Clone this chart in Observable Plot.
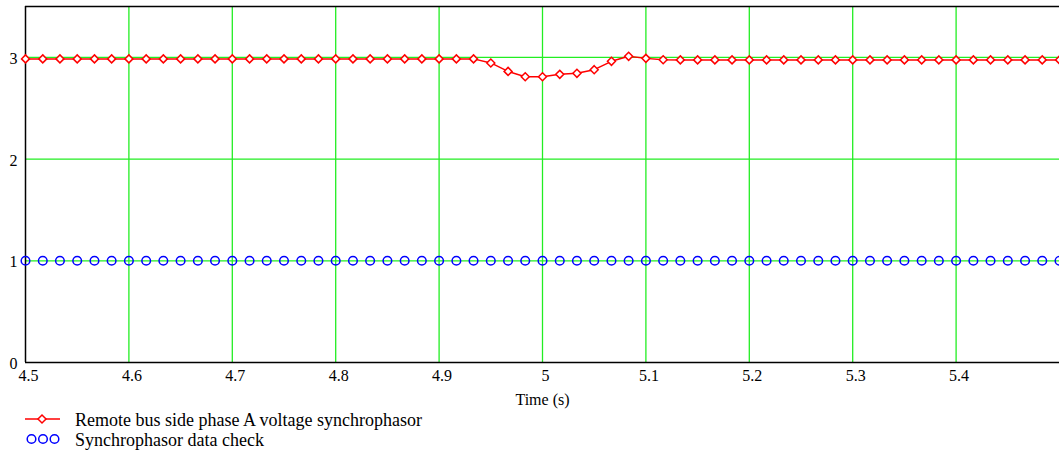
<!DOCTYPE html>
<html>
<head>
<meta charset="utf-8">
<script src="https://cdn.jsdelivr.net/npm/d3@7"></script>
<script src="https://cdn.jsdelivr.net/npm/@observablehq/plot@0.6"></script>
<style>
  html, body { margin: 0; padding: 0; background: #fff; overflow: hidden; }
  #chart { width: 1059px; height: 410px; }
  #legend { position: relative; width: 1059px; height: 45px; font-family: "Liberation Serif", "Times New Roman", serif; font-size: 18px; color: #000; }
  .row { position: absolute; left: 0; height: 20px; width: 700px; }
  .row svg { position: absolute; left: 0; top: 0; }
  .row span { position: absolute; left: 75px; top: 0; line-height: 20px; white-space: nowrap; }
</style>
</head>
<body>
<div id="chart"></div>
<div id="legend">
  <div class="row" style="top:0px">
    <svg width="70" height="20"><line x1="25" x2="60" y1="9" y2="9" stroke="#ff0000" stroke-width="1.5"/><path d="M42,5L46,9L42,13L38,9Z" fill="#fff" stroke="#ff0000" stroke-width="1.5"/></svg>
    <span id="lab0"></span>
  </div>
  <div class="row" style="top:20px">
    <svg width="70" height="20"><circle cx="31.5" cy="9" r="4.3" fill="none" stroke="#0000ff" stroke-width="1.5"/><circle cx="43" cy="9" r="4.3" fill="none" stroke="#0000ff" stroke-width="1.5"/><circle cx="54.5" cy="9" r="4.3" fill="none" stroke="#0000ff" stroke-width="1.5"/></svg>
    <span id="lab1"></span>
  </div>
</div>
<script>
const seriesNames = ["Remote bus side phase A voltage synchrophasor", "Synchrophasor data check"];
const time = [4.5, 4.5167, 4.5333, 4.55, 4.5667, 4.5833, 4.6, 4.6167, 4.6333, 4.65,
  4.6667, 4.6833, 4.7, 4.7167, 4.7333, 4.75, 4.7667, 4.7833, 4.8, 4.8167,
  4.8333, 4.85, 4.8667, 4.8833, 4.9, 4.9167, 4.9333, 4.95, 4.9667, 4.9833,
  5.0, 5.0167, 5.0333, 5.05, 5.0667, 5.0833, 5.1, 5.1167, 5.1333, 5.15,
  5.1667, 5.1833, 5.2, 5.2167, 5.2333, 5.25, 5.2667, 5.2833, 5.3, 5.3167,
  5.3333, 5.35, 5.3667, 5.3833, 5.4, 5.4167, 5.4333, 5.45, 5.4667, 5.4833, 5.5];
const voltage = [2.985, 2.985, 2.985, 2.985, 2.985, 2.985, 2.985, 2.985, 2.985, 2.985,
  2.985, 2.985, 2.985, 2.985, 2.985, 2.985, 2.985, 2.985, 2.985, 2.985,
  2.985, 2.985, 2.985, 2.985, 2.985, 2.985, 2.985, 2.945, 2.862, 2.81,
  2.81, 2.833, 2.843, 2.879, 2.961, 3.01, 2.99, 2.976, 2.975, 2.975,
  2.975, 2.975, 2.975, 2.975, 2.975, 2.975, 2.975, 2.975, 2.975, 2.975,
  2.975, 2.975, 2.975, 2.975, 2.975, 2.975, 2.975, 2.975, 2.975, 2.975, 2.975];
const dataCheck = [1, 1, 1, 1, 1, 1, 1, 1, 1, 1,
  1, 1, 1, 1, 1, 1, 1, 1, 1, 1,
  1, 1, 1, 1, 1, 1, 1, 1, 1, 1,
  1, 1, 1, 1, 1, 1, 1, 1, 1, 1,
  1, 1, 1, 1, 1, 1, 1, 1, 1, 1,
  1, 1, 1, 1, 1, 1, 1, 1, 1, 1, 1];
const xTicks = [4.5, 4.6, 4.7, 4.8, 4.9, 5.0, 5.1, 5.2, 5.3, 5.4];
const xTickLabels = ["4.5", "4.6", "4.7", "4.8", "4.9", "5", "5.1", "5.2", "5.3", "5.4"];
const xGrid = [4.6, 4.7, 4.8, 4.9, 5.0, 5.1, 5.2, 5.3, 5.4];
const yTicks = [0, 1, 2, 3];
const yTickLabels = ["0", "1", "2", "3"];
const yGrid = [1, 2, 3];
const xDomain = [4.5, 5.5];
const yDomain = [0, 3.5];
const xLabel = "Time (s)";

document.getElementById("lab0").textContent = seriesNames[0];
document.getElementById("lab1").textContent = seriesNames[1];

const redData = time.map((t, i) => ({t, v: voltage[i]}));
const blueData = time.map((t, i) => ({t, v: dataCheck[i]}));
const grid = "#22ee22";
const serif = "Liberation Serif, Times New Roman, serif";

const chart = Plot.plot({
  width: 1059,
  height: 410,
  marginLeft: 25,
  marginRight: 0,
  marginTop: 6,
  marginBottom: 48,
  style: {fontFamily: serif, fontSize: "16px", color: "#000", background: "#fff"},
  x: {domain: xDomain, axis: null},
  y: {domain: yDomain, axis: null},
  marks: [
    Plot.ruleX(xGrid, {stroke: grid, strokeWidth: 1.3}),
    Plot.ruleY(yGrid, {stroke: grid, strokeWidth: 1.3}),
    Plot.ruleX([xDomain[0]], {stroke: "#000", strokeWidth: 1.5}),
    Plot.ruleY([yDomain[0]], {stroke: "#000", strokeWidth: 1.5}),
    Plot.ruleY([yDomain[1]], {stroke: "#000", strokeWidth: 1.5}),
    Plot.text(xTicks, {x: d => d, text: (d, i) => xTickLabels[i], frameAnchor: "bottom", dy: 18, dx: 3, fill: "#000", fontFamily: serif, fontSize: 16}),
    Plot.text(yTicks, {y: d => d, text: (d, i) => yTickLabels[i], frameAnchor: "left", dx: -8, dy: 1.5, textAnchor: "end", fill: "#000", fontFamily: serif, fontSize: 16}),
    Plot.text([xLabel], {x: [5.0], frameAnchor: "bottom", dy: 42, fill: "#000", fontFamily: serif, fontSize: 16}),
    Plot.dot(blueData, {x: "t", y: "v", r: 4.3, stroke: "#0000ff", strokeWidth: 1.5, fill: "none"}),
    Plot.line(redData, {x: "t", y: "v", stroke: "#ff0000", strokeWidth: 1.5}),
    Plot.dot(redData, {x: "t", y: "v", symbol: "diamond2", r: 3.6, stroke: "#ff0000", strokeWidth: 1.5, fill: "#fff"})
  ]
});
document.getElementById("chart").appendChild(chart);
</script>
</body>
</html>
